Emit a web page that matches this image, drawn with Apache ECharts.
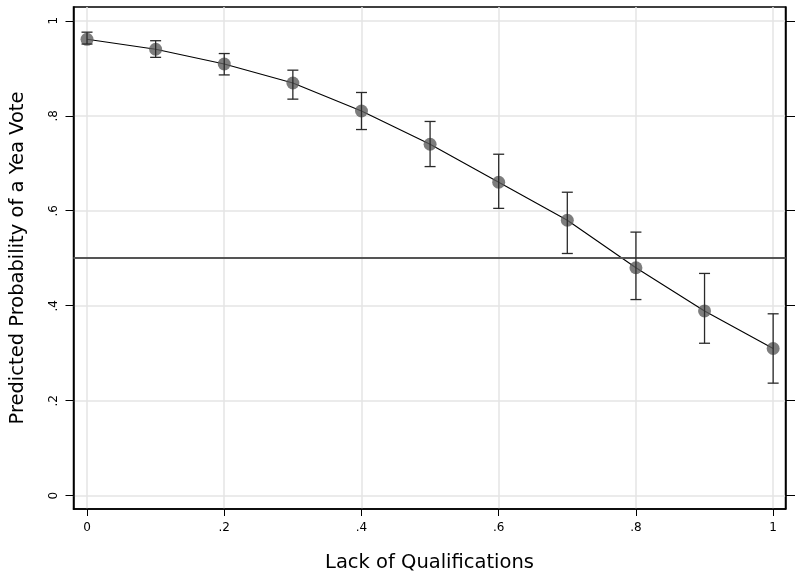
<!DOCTYPE html>
<html>
<head>
<meta charset="utf-8">
<script src="https://cdn.jsdelivr.net/npm/echarts@6/dist/echarts.min.js"></script>
<style>html,body{margin:0;padding:0;background:#fff;}#chart{width:795px;height:574px;}</style>
</head>
<body>
<div id="chart"></div>
<script>
const xValues = [0, 0.1, 0.2, 0.3, 0.4, 0.5, 0.6, 0.7, 0.8, 0.9, 1];
const probValues = [0.961, 0.940, 0.909, 0.869, 0.810, 0.740, 0.660, 0.580, 0.480, 0.389, 0.310];
const lowerCI = [0.951, 0.923, 0.886, 0.835, 0.771, 0.693, 0.605, 0.510, 0.413, 0.321, 0.237];
const upperCI = [0.976, 0.958, 0.931, 0.896, 0.849, 0.788, 0.719, 0.639, 0.555, 0.468, 0.383];
const xTicks = [0, 0.2, 0.4, 0.6, 0.8, 1];
const yTicks = [0, 0.2, 0.4, 0.6, 0.8, 1];
const referenceLine = 0.5;
const xTitle = 'Lack of Qualifications';
const yTitle = 'Predicted Probability of a Yea Vote';

function fmt(v) {
  if (v === 0) return '0';
  if (v === 1) return '1';
  return String(+v.toFixed(2)).replace(/^0\./, '.');
}

const chart = echarts.init(document.getElementById('chart'), null, {renderer: 'canvas'});
const FONT = 'DejaVu Sans';
const gridLine = {show: true, lineStyle: {color: '#e4e4e4', width: 1.5}};

const option = {
  backgroundColor: '#fff',
  animation: false,
  grid: {left: 73.5, right: 9.5, top: 7, bottom: 65, show: true, borderColor: '#000', borderWidth: 1.5,
         containLabel: false, outerBoundsMode: 'none'},
  xAxis: {
    type: 'value', min: -0.0197, max: 1.018,
    name: xTitle, nameLocation: 'middle', nameGap: 44,
    nameTextStyle: {fontFamily: FONT, fontSize: 19.5, color: '#000'},
    axisLine: {show: true, onZero: false, lineStyle: {color: '#000', width: 1.5}},
    axisTick: {show: true, length: 7, customValues: xTicks, lineStyle: {color: '#000', width: 1}},
    axisLabel: {show: true, customValues: xTicks, formatter: fmt, margin: 13, fontFamily: FONT, fontSize: 12, color: '#000'},
    splitLine: gridLine
  },
  yAxis: [{
    type: 'value', min: -0.028, max: 1.029,
    name: yTitle, nameLocation: 'middle', nameGap: 46,
    nameTextStyle: {fontFamily: FONT, fontSize: 19.5, color: '#000'},
    axisLine: {show: true, onZero: false, lineStyle: {color: '#000', width: 1.5}},
    axisTick: {show: true, length: 8, customValues: yTicks, lineStyle: {color: '#000', width: 1}},
    axisLabel: {show: true, customValues: yTicks, formatter: fmt, rotate: 90, margin: 14, fontFamily: FONT, fontSize: 12, color: '#000'},
    splitLine: gridLine
  }, {
    type: 'value', min: -0.028, max: 1.029, position: 'right',
    axisLine: {show: true, onZero: false, lineStyle: {color: '#000', width: 1.5}},
    axisTick: {show: true, length: 10, customValues: yTicks, lineStyle: {color: '#000', width: 1}},
    axisLabel: {show: false},
    splitLine: {show: false}
  }],
  series: [
    {
      type: 'line', data: xValues.map((x, i) => [x, probValues[i]]),
      showSymbol: false, symbol: 'none',
      lineStyle: {color: '#000', width: 1.1}, z: 3,
      markLine: {
        silent: true, symbol: 'none', label: {show: false},
        lineStyle: {color: '#555', width: 2, type: 'solid'},
        data: [{yAxis: referenceLine}]
      }
    },
    {
      type: 'scatter', data: xValues.map((x, i) => [x, probValues[i]]),
      symbol: 'circle', symbolSize: 13,
      itemStyle: {color: '#5c5c5c'}, z: 4
    },
    {
      type: 'custom', z: 5, clip: false,
      data: xValues.map((x, i) => [x, lowerCI[i], upperCI[i]]),
      renderItem: function (params, api) {
        const lo = api.coord([api.value(0), api.value(1)]);
        const hi = api.coord([api.value(0), api.value(2)]);
        const w = 5.5;
        const style = {stroke: '#2a2a2a', lineWidth: 1.3};
        return {
          type: 'group',
          children: [
            {type: 'line', shape: {x1: lo[0], y1: lo[1], x2: hi[0], y2: hi[1]}, style: style},
            {type: 'line', shape: {x1: lo[0] - w, y1: lo[1], x2: lo[0] + w, y2: lo[1]}, style: style},
            {type: 'line', shape: {x1: hi[0] - w, y1: hi[1], x2: hi[0] + w, y2: hi[1]}, style: style}
          ]
        };
      }
    }
  ]
};
chart.setOption(option);
</script>
</body>
</html>
